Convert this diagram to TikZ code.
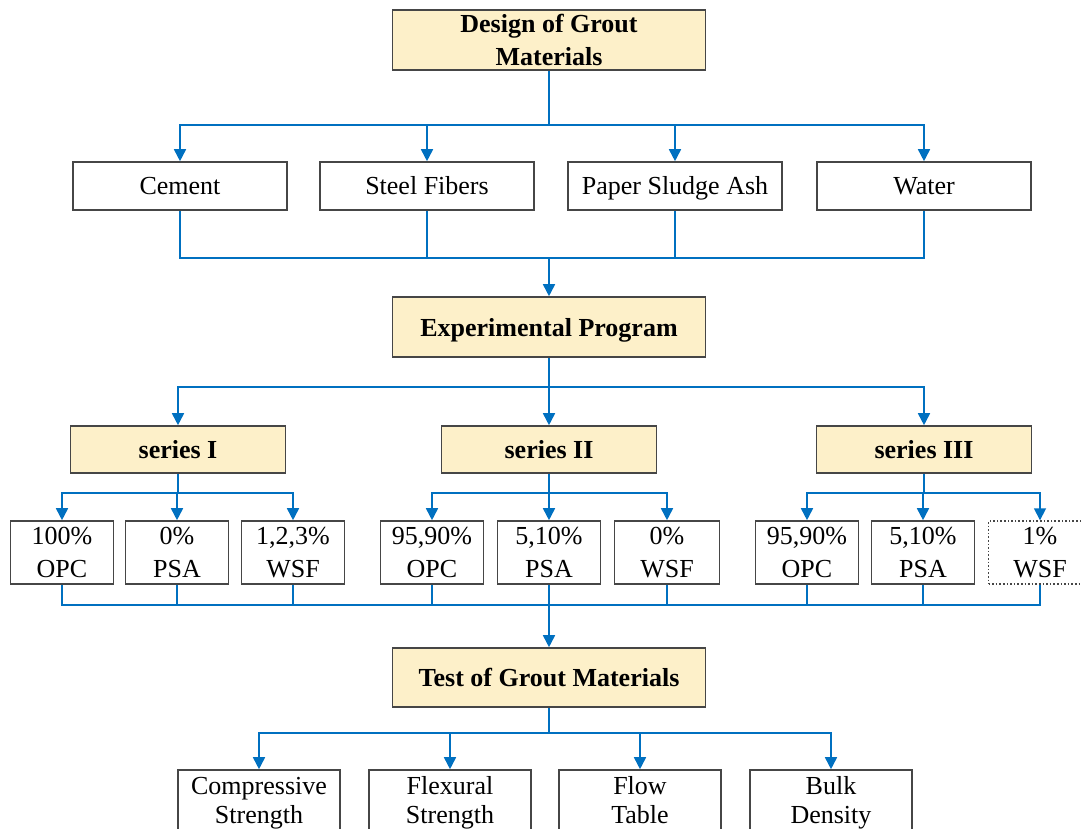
\documentclass[tikz,border=0pt]{standalone}
\usepackage{fontspec}
\setmainfont{Liberation Serif}
\usetikzlibrary{arrows.meta}
\definecolor{boxfill}{RGB}{253,240,201}
\definecolor{linkblue}{RGB}{0,112,192}
\definecolor{boxedge}{RGB}{70,70,70}

\begin{document}
\begin{tikzpicture}[x=1pt,y=-1pt,
    frame/.style={draw=boxedge, line width=1.6pt, inner sep=1pt, align=center},
    box/.style={frame, minimum width=214pt, minimum height=48pt, text height=20pt, text depth=2pt, font=\fontsize{26}{31}\selectfont},
    head/.style={frame, fill=boxfill, font=\fontsize{26}{33}\selectfont\bfseries},
    oneline/.style={text height=20pt, text depth=2pt},
    small/.style={frame, minimum width=103pt, minimum height=63pt, font=\fontsize{26}{33}\selectfont},
    result/.style={frame, minimum width=162pt, minimum height=67pt, font=\fontsize{26}{29}\selectfont},
    link/.style={draw=linkblue, line width=1.7pt},
    arr/.style={link, -{Triangle[width=12pt,length=12pt]}}]
     \path[use as bounding box, clip] (0,0) rectangle (1082,829);

     \node[head, minimum width=313pt, minimum height=60pt] (design) at (549,40) {Design of Grout\\Materials};
     \node[box] (cement) at (180,186) {Cement};
     \node[box] (steel) at (427,186) {Steel Fibers};
     \node[box] (ash) at (675,186) {Paper Sludge Ash};
     \node[box] (water) at (924,186) {Water};

     \node[head, oneline, minimum width=313pt, minimum height=60pt] (program) at (549,327) {Experimental Program};
     \node[head, oneline, minimum width=215pt, minimum height=47pt] (seriesA) at (178,449.5) {series I};
     \node[head, oneline, minimum width=215pt, minimum height=47pt] (seriesB) at (549,449.5) {series II};
     \node[head, oneline, minimum width=215pt, minimum height=47pt] (seriesC) at (924,449.5) {series III};

     \node[small] (opcA) at (62,552.5) {100\%\\OPC};
     \node[small] (psaA) at (177,552.5) {0\%\\PSA};
     \node[small] (wsfA) at (293,552.5) {1,2,3\%\\WSF};
     \node[small] (opcB) at (432,552.5) {95,90\%\\OPC};
     \node[small] (psaB) at (549,552.5) {5,10\%\\PSA};
     \node[small, minimum width=105pt] (wsfB) at (667,552.5) {0\%\\WSF};
     \node[small] (opcC) at (807,552.5) {95,90\%\\OPC};
     \node[small] (psaC) at (923,552.5) {5,10\%\\PSA};
     \node[small, dotted, line width=1.4pt] (wsfC) at (1040,552.5) {1\%\\WSF};

     \node[head, oneline, minimum width=313pt, minimum height=59pt] (test) at (549,677.5) {Test of Grout Materials};
     \node[result] (comp) at (259,803.5) {Compressive\strut\\Strength\strut};
     \node[result] (flex) at (450,803.5) {Flexural\strut\\Strength\strut};
     \node[result] (flow) at (640,803.5) {Flow\strut\\Table\strut};
     \node[result] (bulk) at (831,803.5) {Bulk\strut\\Density\strut};

     \coordinate (splitA) at (549,125);
     \coordinate (joinA) at (549,258);
     \coordinate (splitB) at (549,387);
     \coordinate (joinB) at (549,605);
     \coordinate (splitC) at (549,733);

     \draw[link] (design.south) -- (splitA);
     \foreach \n in {cement,steel,ash,water}
        \draw[arr] (splitA) -| (\n.north);
     \foreach \n in {cement,steel,ash,water}
        \draw[link] (\n.south) |- (joinA);
     \draw[arr] (joinA) -- (program.north);

     \draw[link] (program.south) -- (splitB);
     \foreach \n in {seriesA,seriesB,seriesC}
        \draw[arr] (splitB) -| (\n.north);

     \foreach \n in {opcA,psaA,wsfA}
        \draw[arr] (seriesA.south) -- ++(0,19) -| (\n.north);
     \foreach \n in {opcB,psaB,wsfB}
        \draw[arr] (seriesB.south) -- ++(0,19) -| (\n.north);
     \foreach \n in {opcC,psaC,wsfC}
        \draw[arr] (seriesC.south) -- ++(0,19) -| (\n.north);

     \foreach \n in {opcA,psaA,wsfA,opcB,psaB,wsfB,opcC,psaC,wsfC}
        \draw[link] (\n.south) |- (joinB);
     \draw[arr] (joinB) -- (test.north);

     \draw[link] (test.south) -- (splitC);
     \foreach \n in {comp,flex,flow,bulk}
        \draw[arr] (splitC) -| (\n.north);
    \end{tikzpicture}
\end{document}
